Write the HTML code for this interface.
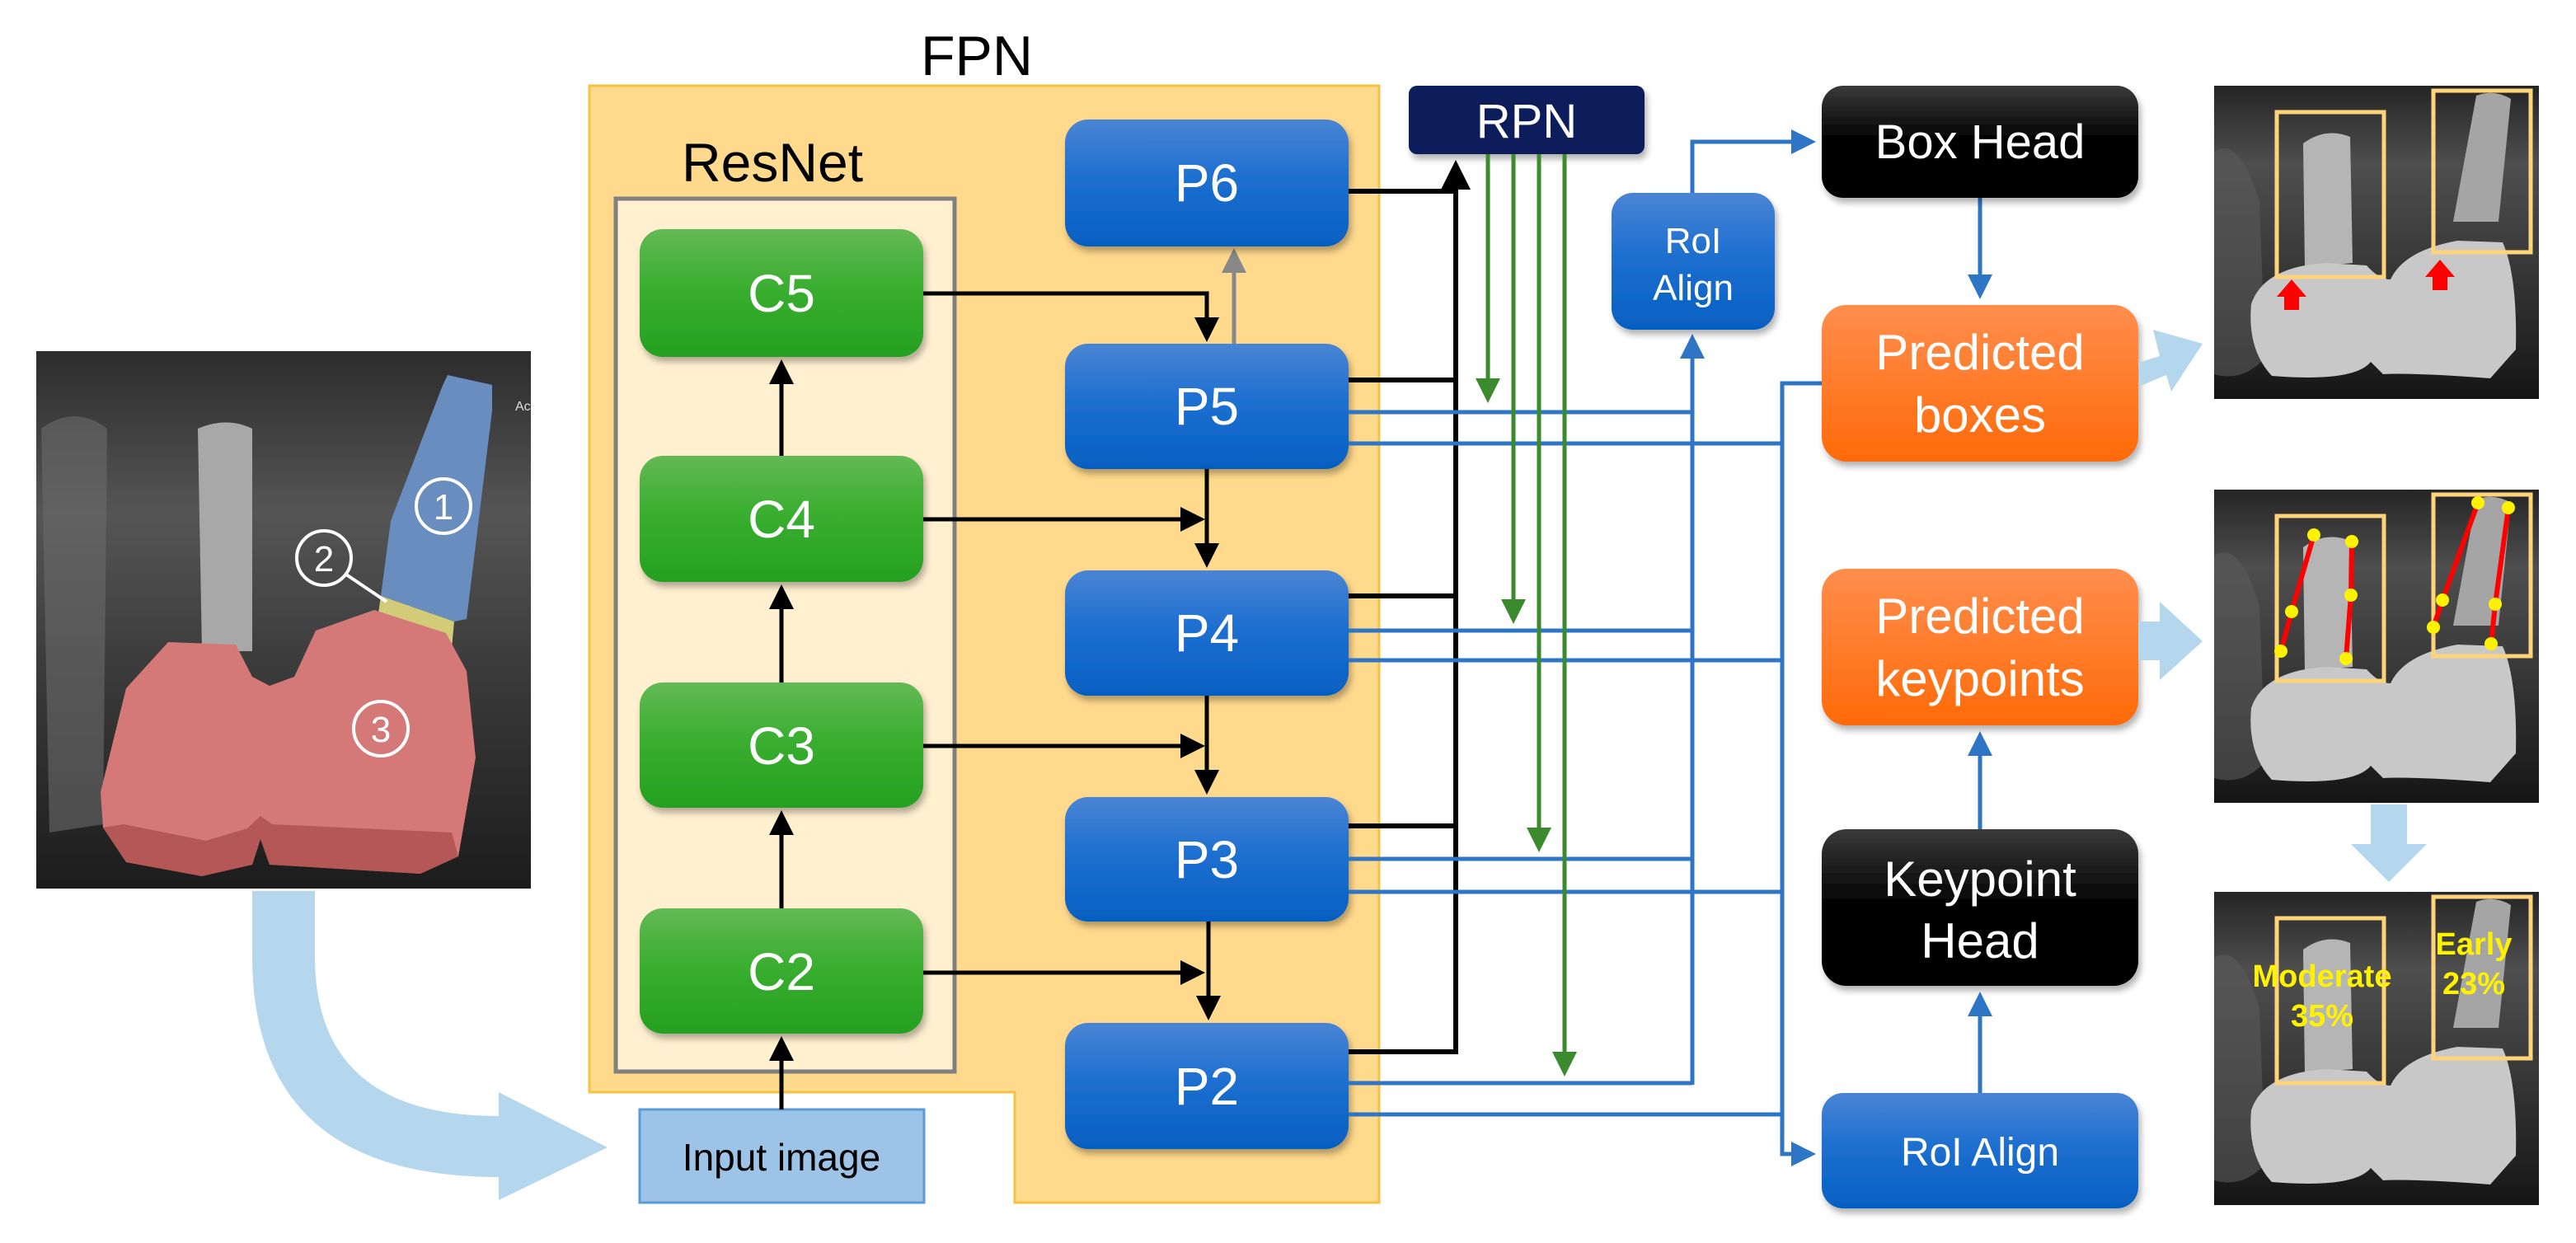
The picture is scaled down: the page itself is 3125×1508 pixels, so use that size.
<!DOCTYPE html>
<html><head><meta charset="utf-8"><style>
html,body{margin:0;padding:0;background:#fff;}
svg{display:block;font-family:"Liberation Sans","DejaVu Sans",sans-serif;}
</style></head><body>
<svg width="3125" height="1508" viewBox="0 0 3125 1508" xmlns="http://www.w3.org/2000/svg">
<defs>
<linearGradient id="gb" x1="0" y1="0" x2="0" y2="1"><stop offset="0" stop-color="#4A85D4"/><stop offset="0.45" stop-color="#1E6FD0"/><stop offset="1" stop-color="#0560C2"/></linearGradient>
<linearGradient id="gg" x1="0" y1="0" x2="0" y2="1"><stop offset="0" stop-color="#64B955"/><stop offset="0.45" stop-color="#3AAE30"/><stop offset="1" stop-color="#25A020"/></linearGradient>
<linearGradient id="go" x1="0" y1="0" x2="0" y2="1"><stop offset="0" stop-color="#FF8E4E"/><stop offset="1" stop-color="#FF6A08"/></linearGradient>
<linearGradient id="gk" x1="0" y1="0" x2="0" y2="1"><stop offset="0" stop-color="#3a3a3a"/><stop offset="0.5" stop-color="#000"/><stop offset="1" stop-color="#000"/></linearGradient>
<linearGradient id="xr" x1="0" y1="0" x2="0" y2="1"><stop offset="0" stop-color="#252525"/><stop offset="0.25" stop-color="#4e4e4e"/><stop offset="0.55" stop-color="#3a3a3a"/><stop offset="1" stop-color="#151515"/></linearGradient>
<linearGradient id="xl" x1="0" y1="0" x2="0" y2="1"><stop offset="0" stop-color="#2c2c2c"/><stop offset="0.3" stop-color="#555"/><stop offset="0.6" stop-color="#3a3a3a"/><stop offset="1" stop-color="#1c1c1c"/></linearGradient>
<filter id="sh" x="-10%" y="-10%" width="130%" height="140%"><feDropShadow dx="3" dy="6" stdDeviation="4" flood-color="#000" flood-opacity="0.3"/></filter>
<marker id="ak" markerWidth="6" markerHeight="6" refX="5" refY="3" orient="auto" markerUnits="strokeWidth"><path d="M0,0 L6,3 L0,6 Z" fill="#000"/></marker>
<marker id="agy" markerWidth="6" markerHeight="6" refX="5" refY="3" orient="auto" markerUnits="strokeWidth"><path d="M0,0 L6,3 L0,6 Z" fill="#888"/></marker>
<marker id="agr" markerWidth="6" markerHeight="6" refX="5" refY="3" orient="auto" markerUnits="strokeWidth"><path d="M0,0 L6,3 L0,6 Z" fill="#3B8A2E"/></marker>
<marker id="abl" markerWidth="6" markerHeight="6" refX="5" refY="3" orient="auto" markerUnits="strokeWidth"><path d="M0,0 L6,3 L0,6 Z" fill="#2E75C6"/></marker>
<g id="xray">
<rect x="0" y="0" width="394" height="380" fill="url(#xr)"/>
<path d="M0,80 Q30,60 55,140 L62,330 Q35,360 0,350 Z" fill="#5a5a5a" opacity="0.6"/>
<path d="M108,70 Q135,50 165,62 L168,215 L110,220 Z" fill="#b5b5b5"/>
<path d="M318,12 Q340,4 360,16 L345,165 L290,165 Z" fill="#a5a5a5"/>
<path d="M45,265 Q60,220 135,215 L185,218 Q200,235 214,235 Q230,200 295,188 L350,190 Q368,230 366,320 L335,355 Q240,348 205,350 L190,335 Q170,360 70,352 Q40,320 45,265 Z" fill="#c8c8c8"/>
</g>
</defs>

<!-- left xray -->
<rect x="44" y="426" width="600" height="652" fill="url(#xl)"/>
<path d="M50,520 Q90,490 130,520 L125,1000 L60,1010 Z" fill="#6a6a6a" opacity="0.6"/>
<path d="M240,520 Q275,505 306,520 L306,790 L245,790 Z" fill="#a8a8a8"/>
<polygon points="543,455 597,467 597,498 566,751 551,754 462,723 474,632 536,470" fill="#6A8DC0"/>
<polygon points="462,723 551,754 548,786 459,744" fill="#D2CC78"/>
<polygon points="122,961 153,835 204,779 286,782 306,821 327,832 357,821 383,765 454,740 541,768 566,814 577,919 556,1039 510,1060 327,1049 316,1018 306,1049 245,1063 153,1046 125,1004" fill="#D47878"/>
<path d="M125,1004 L153,1046 L245,1063 L306,1049 L316,1018 L327,1049 L510,1060 L556,1039 L548,1010 L330,1000 L316,990 L300,1005 L250,1020 L150,1000 Z" fill="#A84848" opacity="0.7"/>
<circle cx="538" cy="614" r="33" fill="none" stroke="#fff" stroke-width="4"/>
<text x="538" y="630" font-size="44" fill="#fff" text-anchor="middle">1</text>
<circle cx="393" cy="677" r="33" fill="none" stroke="#fff" stroke-width="4"/>
<text x="393" y="693" font-size="44" fill="#fff" text-anchor="middle">2</text>
<line x1="420" y1="697" x2="469" y2="730" stroke="#fff" stroke-width="4"/>
<circle cx="462" cy="884" r="33" fill="none" stroke="#fff" stroke-width="4"/>
<text x="462" y="900" font-size="44" fill="#fff" text-anchor="middle">3</text>
<text x="625" y="498" font-size="16" fill="#ddd">Ac</text>

<!-- curved arrow -->
<path d="M306,1081 L382,1081 L382,1160 Q382,1354 605,1354 L605,1325 L737,1392 L605,1456 L605,1428 Q306,1428 306,1160 Z" fill="#B4D7EE"/>

<!-- FPN region -->
<path d="M715,104 L1673,104 L1673,1459 L1231,1459 L1231,1325 L715,1325 Z" fill="#FFD98C" stroke="#F5C242" stroke-width="3"/>
<text x="1185" y="91" font-size="68" fill="#000" text-anchor="middle">FPN</text>
<rect x="747" y="241" width="411" height="1059" fill="#FFF0D0" stroke="#808080" stroke-width="5"/>
<text x="937" y="220" font-size="66" fill="#000" text-anchor="middle">ResNet</text>

<g filter="url(#sh)">
<rect x="776" y="278" width="344" height="155" rx="28" fill="url(#gg)"/>
<rect x="776" y="553" width="344" height="153" rx="28" fill="url(#gg)"/>
<rect x="776" y="828" width="344" height="152" rx="28" fill="url(#gg)"/>
<rect x="776" y="1102" width="344" height="152" rx="28" fill="url(#gg)"/>
</g>
<g font-size="64" fill="#fff" text-anchor="middle">
<text x="948" y="378">C5</text><text x="948" y="652">C4</text><text x="948" y="927">C3</text><text x="948" y="1201">C2</text>
</g>

<rect x="776" y="1346" width="345" height="113" fill="#9DC3E6" stroke="#5B9BD5" stroke-width="3"/>
<text x="948" y="1420" font-size="46" fill="#000" text-anchor="middle">Input image</text>

<g stroke="#000" stroke-width="5" fill="none" marker-end="url(#ak)">
<line x1="948" y1="1346" x2="948" y2="1262"/>
<line x1="948" y1="1102" x2="948" y2="988"/>
<line x1="948" y1="828" x2="948" y2="714"/>
<line x1="948" y1="553" x2="948" y2="441"/>
<path d="M1120,356 L1464,356 L1464,410"/>
<line x1="1120" y1="630" x2="1457" y2="630"/>
<line x1="1120" y1="905" x2="1457" y2="905"/>
<line x1="1120" y1="1180" x2="1457" y2="1180"/>
<line x1="1464" y1="569" x2="1464" y2="684"/>
<line x1="1464" y1="844" x2="1464" y2="959"/>
<line x1="1466" y1="1118" x2="1466" y2="1233"/>
</g>
<line x1="1497" y1="417" x2="1497" y2="306" stroke="#888" stroke-width="5" marker-end="url(#agy)"/>

<g filter="url(#sh)">
<rect x="1292" y="145" width="344" height="154" rx="28" fill="url(#gb)"/>
<rect x="1292" y="417" width="344" height="152" rx="28" fill="url(#gb)"/>
<rect x="1292" y="692" width="344" height="152" rx="28" fill="url(#gb)"/>
<rect x="1292" y="967" width="344" height="151" rx="28" fill="url(#gb)"/>
<rect x="1292" y="1241" width="344" height="153" rx="28" fill="url(#gb)"/>
</g>
<g font-size="64" fill="#fff" text-anchor="middle">
<text x="1464" y="244">P6</text><text x="1464" y="515">P5</text><text x="1464" y="790">P4</text><text x="1464" y="1065">P3</text><text x="1464" y="1340">P2</text>
</g>

<rect x="1709" y="104" width="286" height="83" rx="10" fill="#0B1A5A" filter="url(#sh)"/>
<text x="1852" y="167" font-size="58" fill="#fff" text-anchor="middle">RPN</text>

<g stroke="#000" stroke-width="6" fill="none">
<line x1="1636" y1="232" x2="1766" y2="232"/>
<line x1="1636" y1="461" x2="1766" y2="461"/>
<line x1="1636" y1="723" x2="1766" y2="723"/>
<line x1="1636" y1="1002" x2="1766" y2="1002"/>
<line x1="1636" y1="1276" x2="1766" y2="1276"/>
<line x1="1766" y1="1279" x2="1766" y2="200" marker-end="url(#ak)"/>
</g>

<g stroke="#2E75C6" stroke-width="5" fill="none">
<line x1="1636" y1="500" x2="2053" y2="500"/>
<line x1="1636" y1="765" x2="2053" y2="765"/>
<line x1="1636" y1="1042" x2="2053" y2="1042"/>
<line x1="1636" y1="1314" x2="2053" y2="1314"/>
<line x1="1636" y1="538" x2="2162" y2="538"/>
<line x1="1636" y1="801" x2="2162" y2="801"/>
<line x1="1636" y1="1082" x2="2162" y2="1082"/>
<line x1="1636" y1="1352" x2="2162" y2="1352"/>
<line x1="2053" y1="1316" x2="2053" y2="410" marker-end="url(#abl)"/>
<path d="M2053,234 L2053,172 L2198,172" marker-end="url(#abl)"/>
<path d="M2210,465 L2162,465 L2162,1400 L2198,1400" marker-end="url(#abl)"/>
<line x1="2402" y1="240" x2="2402" y2="358" marker-end="url(#abl)"/>
<line x1="2402" y1="1006" x2="2402" y2="892" marker-end="url(#abl)"/>
<line x1="2402" y1="1326" x2="2402" y2="1208" marker-end="url(#abl)"/>
</g>

<g stroke="#3B8A2E" stroke-width="5" fill="none" marker-end="url(#agr)">
<line x1="1805" y1="187" x2="1805" y2="484"/>
<line x1="1836" y1="187" x2="1836" y2="752"/>
<line x1="1867" y1="187" x2="1867" y2="1029"/>
<line x1="1898" y1="187" x2="1898" y2="1301"/>
</g>

<rect x="1955" y="234" width="198" height="166" rx="26" fill="url(#gb)" filter="url(#sh)"/>
<text x="2054" y="307" font-size="44" fill="#fff" text-anchor="middle">RoI</text>
<text x="2054" y="364" font-size="44" fill="#fff" text-anchor="middle">Align</text>

<g filter="url(#sh)">
<rect x="2210" y="104" width="384" height="136" rx="26" fill="url(#gk)"/>
<rect x="2210" y="370" width="384" height="190" rx="30" fill="url(#go)"/>
<rect x="2210" y="690" width="384" height="190" rx="30" fill="url(#go)"/>
<rect x="2210" y="1006" width="384" height="190" rx="30" fill="url(#gk)"/>
<rect x="2210" y="1326" width="384" height="140" rx="26" fill="url(#gb)"/>
</g>
<g fill="#fff" text-anchor="middle">
<text x="2402" y="192" font-size="58">Box Head</text>
<text x="2402" y="448" font-size="60">Predicted</text>
<text x="2402" y="524" font-size="60">boxes</text>
<text x="2402" y="768" font-size="60">Predicted</text>
<text x="2402" y="844" font-size="60">keypoints</text>
<text x="2402" y="1087" font-size="60">Keypoint</text>
<text x="2402" y="1162" font-size="60">Head</text>
<text x="2402" y="1414" font-size="48">RoI Align</text>
</g>

<polygon points="2594,440 2620,432 2612,400 2672,417 2634,475 2628,455 2597,468" fill="#B4D7EE"/>
<polygon points="2594,754 2620,754 2620,730 2672,778 2620,825 2620,801 2594,801" fill="#B4D7EE"/>
<polygon points="2876,976 2920,976 2920,1024 2944,1024 2898,1070 2852,1024 2876,1024" fill="#B4D7EE"/>

<g transform="translate(2686,104)">
<use href="#xray"/>
<rect x="76" y="32" width="130" height="200" fill="none" stroke="#FFD37A" stroke-width="5"/>
<rect x="266" y="6" width="118" height="196" fill="none" stroke="#FFD37A" stroke-width="5"/>
<polygon points="94,235 112,256 103,256 103,272 85,272 85,256 76,256" fill="#F00"/>
<polygon points="274,211 292,232 283,232 283,248 265,248 265,232 256,232" fill="#F00"/>
</g>
<g transform="translate(2686,594)">
<use href="#xray"/>
<rect x="76" y="32" width="130" height="200" fill="none" stroke="#FFD37A" stroke-width="5"/>
<rect x="266" y="6" width="118" height="196" fill="none" stroke="#FFD37A" stroke-width="5"/>
<g stroke="#F00" stroke-width="6" fill="none">
<polyline points="121,55 94,148 81,196"/><polyline points="167,63 166,128 160,205"/>
<polyline points="320,16 277,134 266,167"/><polyline points="357,22 341,139 336,187"/>
</g>
<g fill="#FFF200">
<circle cx="121" cy="55" r="8"/><circle cx="94" cy="148" r="8"/><circle cx="81" cy="196" r="8"/>
<circle cx="167" cy="63" r="8"/><circle cx="166" cy="128" r="8"/><circle cx="160" cy="205" r="8"/>
<circle cx="320" cy="16" r="8"/><circle cx="277" cy="134" r="8"/><circle cx="266" cy="167" r="8"/>
<circle cx="357" cy="22" r="8"/><circle cx="341" cy="139" r="8"/><circle cx="336" cy="187" r="8"/>
</g>
</g>
<g transform="translate(2686,1082)">
<use href="#xray"/>
<rect x="76" y="32" width="130" height="200" fill="none" stroke="#FFD37A" stroke-width="5"/>
<rect x="266" y="6" width="118" height="196" fill="none" stroke="#FFD37A" stroke-width="5"/>
<g fill="#FFF200" font-weight="bold" font-size="38" text-anchor="middle">
<text x="131" y="115">Moderate</text><text x="131" y="163">35%</text>
<text x="315" y="76">Early</text><text x="315" y="124">23%</text>
</g>
</g>
</svg>
</body></html>
